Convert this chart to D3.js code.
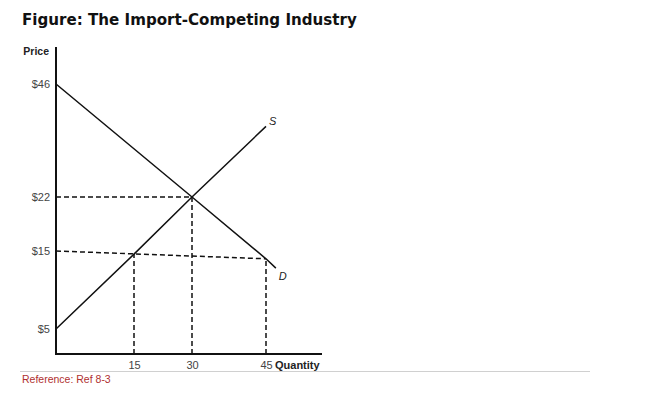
<!DOCTYPE html>
<html>
<head>
<meta charset="utf-8">
<script src="https://cdn.jsdelivr.net/npm/d3@7"></script>
<style>
  html, body { margin: 0; padding: 0; background: #fff; }
  svg { display: block; }
</style>
</head>
<body>
<svg id="chart" width="650" height="394"></svg>
<script>
// ---- data ----
const title = "Figure: The Import-Competing Industry";
const reference = "Reference: Ref 8-3";
const priceTicks = [5, 15, 22, 46];
const priceTickLabels = ["$5", "$15", "$22", "$46"];
const quantityTicks = [15, 30, 45];
const quantityTickLabels = ["15", "30", "45"];
// supply curve S (quantity, price)
const supplyQ = [0, 15, 30, 45];
const supplyP = [5, 14.6, 22, 37];
// demand curve D (quantity, price)
const demandQ = [0, 30, 45, 47];
const demandP = [46, 22, 14, 12.8];
// dashed guide lines: [q1, p1, q2, p2]
const guides = [
  [0, 22, 30, 22],
  [0, 15, 45, 14],
  [15, 0, 15, 14.6],
  [30, 0, 30, 22],
  [45, 0, 45, 14]
];

// ---- drawing ----
const svg = d3.select("#chart");
const font = "'Liberation Sans', Arial, Helvetica, sans-serif";

// schematic (non-uniform) scales as drawn in the figure
const x = d3.scaleLinear().domain([0, 15, 30, 45]).range([56, 134, 192, 266]);
const y = d3.scaleLinear().domain([0, 5, 15, 22, 46]).range([354, 329, 251, 197, 84]);

svg.append("text")
  .attr("x", 22).attr("y", 25)
  .attr("font-family", "'DejaVu Sans', Verdana, sans-serif")
  .attr("font-weight", "bold")
  .attr("font-size", 15.1)
  .attr("fill", "#111")
  .text(title);

// guides
const g = svg.append("g");
g.selectAll("line.guide").data(guides).join("line")
  .attr("class", "guide")
  .attr("x1", d => x(d[0])).attr("y1", d => y(d[1]))
  .attr("x2", d => x(d[2])).attr("y2", d => y(d[3]))
  .attr("stroke", "#111").attr("stroke-width", 1.5)
  .attr("stroke-dasharray", "5,3");

const line = d3.line().x(d => x(d[0])).y(d => y(d[1]));
const supply = supplyQ.map((q, i) => [q, supplyP[i]]);
const demand = demandQ.map((q, i) => [q, demandP[i]]);

g.append("path").datum(supply).attr("d", line)
  .attr("fill", "none").attr("stroke", "#111").attr("stroke-width", 1.5);
g.append("path").datum(demand).attr("d", line)
  .attr("fill", "none").attr("stroke", "#111").attr("stroke-width", 1.5);

// curve labels
const sEnd = supply[supply.length - 1];
const dEnd = demand[demand.length - 1];
g.append("text").attr("x", x(sEnd[0]) + 3).attr("y", y(sEnd[1]) - 1)
  .attr("font-family", font).attr("font-style", "italic").attr("font-size", 11)
  .attr("fill", "#222").text("S");
g.append("text").attr("x", x(dEnd[0]) + 3).attr("y", y(dEnd[1]) + 12)
  .attr("font-family", font).attr("font-style", "italic").attr("font-size", 11)
  .attr("fill", "#222").text("D");

// axes
const yAxis = d3.axisLeft(y).tickValues(priceTicks)
  .tickFormat((d, i) => priceTickLabels[i]).tickSize(0).tickPadding(6);
const yg = svg.append("g").attr("transform", `translate(${x(0)},0)`).call(yAxis);
yg.select(".domain").remove();
yg.selectAll("text").attr("font-family", font).attr("font-size", 11).attr("fill", "#444");

const xAxis = d3.axisBottom(x).tickValues(quantityTicks)
  .tickFormat((d, i) => quantityTickLabels[i]).tickSize(0).tickPadding(7);
const xg = svg.append("g").attr("transform", `translate(0,${y(0)})`).call(xAxis);
xg.select(".domain").remove();
xg.selectAll("text").attr("font-family", font).attr("font-size", 11).attr("fill", "#444");

// axis lines
svg.append("line").attr("x1", x(0)).attr("y1", 47).attr("x2", x(0)).attr("y2", y(0) + 1)
  .attr("stroke", "#111").attr("stroke-width", 2);
svg.append("line").attr("x1", x(0) - 1).attr("y1", y(0)).attr("x2", 322).attr("y2", y(0))
  .attr("stroke", "#111").attr("stroke-width", 2);

svg.append("text").attr("x", 49).attr("y", 55).attr("text-anchor", "end")
  .attr("font-family", font).attr("font-weight", "bold").attr("font-size", 10.5)
  .attr("fill", "#222").text("Price");
svg.append("text").attr("x", 275).attr("y", 369)
  .attr("font-family", font).attr("font-weight", "bold").attr("font-size", 11)
  .attr("fill", "#222").text("Quantity");

// footer
svg.append("line").attr("x1", 20).attr("x2", 590).attr("y1", 371.5).attr("y2", 371.5)
  .attr("stroke", "#d0d0d0").attr("stroke-width", 1);
svg.append("text").attr("x", 22).attr("y", 383)
  .attr("font-family", font).attr("font-size", 10.5)
  .attr("fill", "#b03030").text(reference);
</script>
</body>
</html>
